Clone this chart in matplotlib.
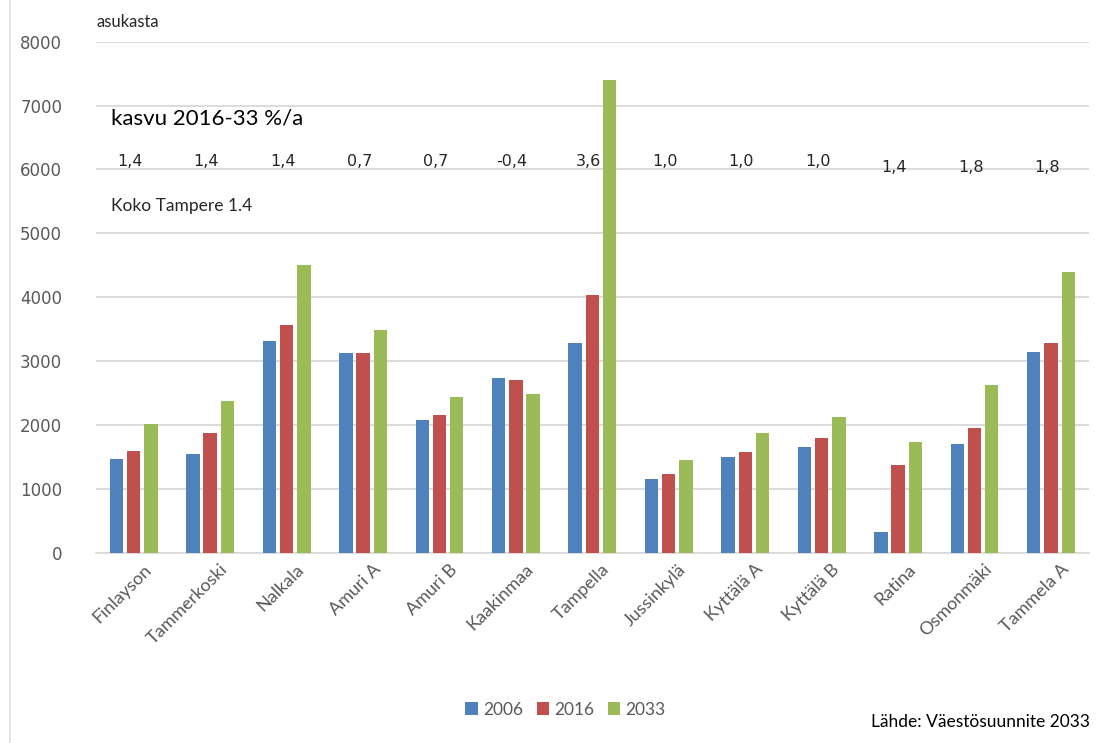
import numpy as np
import matplotlib.pyplot as plt
from matplotlib.lines import Line2D

# data
areas = ["Finlayson", "Tammerkoski", "Nalkala", "Amuri A", "Amuri B", "Kaakinmaa",
         "Tampella", "Jussinkylä", "Kyttälä A", "Kyttälä B", "Ratina", "Osmonmäki", "Tammela A"]
v2006 = [1470, 1550, 3320, 3130, 2080, 2740, 3290, 1160, 1500, 1660, 330, 1700, 3150]
v2016 = [1600, 1880, 3570, 3130, 2160, 2710, 4040, 1240, 1580, 1800, 1370, 1950, 3280]
v2033 = [2020, 2380, 4510, 3490, 2440, 2490, 7400, 1450, 1870, 2120, 1730, 2630, 4400]
growth = ["1,4", "1,4", "1,4", "0,7", "0,7", "-0,4", "3,6", "1,0", "1,0", "1,0", "1,4", "1,8", "1,8"]
years = ["2006", "2016", "2033"]

colors = ["#4F81BD", "#C0504D", "#9BBB59"]
grey = "#595959"

fig = plt.figure(figsize=(10.98, 7.43), dpi=100)
ax = fig.add_axes([0.087, 0.256, 0.905, 0.688])

x = np.arange(len(areas))
w = 0.175
for i, vals in enumerate([v2006, v2016, v2033]):
    ax.bar(x + (i - 1) * 0.225, vals, w, color=colors[i], label=years[i], zorder=3)

ax.set_xlim(-0.5, len(areas) - 0.5)
ax.set_ylim(0, 8000)
ax.set_yticks(np.arange(0, 8001, 1000))
ax.tick_params(axis="y", length=0, pad=24, labelsize=12, labelcolor=grey)
ax.tick_params(axis="x", length=0, pad=6, labelcolor=grey)
ax.grid(axis="y", color="#D9D9D9", lw=1.3, zorder=0)
for s in ["top", "right", "left"]:
    ax.spines[s].set_visible(False)
ax.spines["bottom"].set_color("#D9D9D9")
ax.spines["bottom"].set_linewidth(1.3)

ax.set_xticks(x + 0.12)
ax.set_xticklabels(areas, rotation=45, ha="right", rotation_mode="anchor",
                   fontsize=13, family="Lato")

# growth labels
for i, g in enumerate(growth):
    yy = 6030 if i >= 10 else 6130
    ax.text(i - 0.05, yy, g, ha="center", va="center", fontsize=11.5, color="#262626")

fig.text(0.088, 0.963, "asukasta", fontsize=12, family="Lato", color="#262626")
ax.text(-0.3, 6800, "kasvu 2016-33 %/a", fontsize=16, family="Lato", color="black", va="center")
ax.text(-0.3, 5420, "Koko Tampere 1.4", fontsize=12.5, family="Lato", color="#262626", va="center")

fig.legend(loc="center", bbox_to_anchor=(0.515, 0.045), ncol=3, frameon=False,
           handlelength=0.7, handleheight=0.7, handletextpad=0.3, columnspacing=0.8,
           prop={"family": "Lato", "size": 12.5}, labelcolor=grey)

fig.text(0.993, 0.022, "Lähde: Väestösuunnite 2033", ha="right", fontsize=12.5, family="Lato", color="black")

# faint left border line
fig.add_artist(Line2D([0.009, 0.009], [0.0, 1.0], color="#E0E0E0", lw=1.2))

fig.savefig("out.png", dpi=100)
